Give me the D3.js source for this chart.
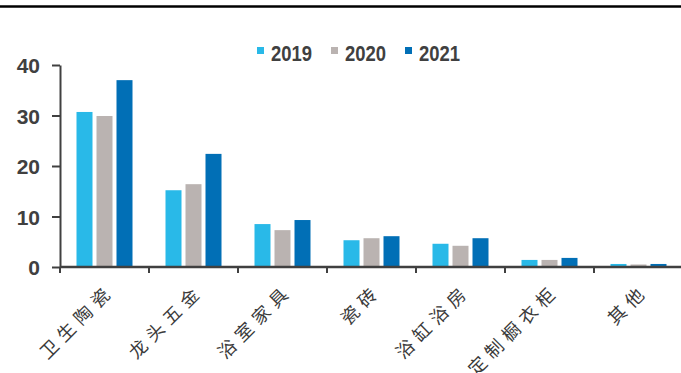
<!DOCTYPE html>
<html>
<head>
<meta charset="utf-8">
<script src="https://cdn.jsdelivr.net/npm/d3@7/dist/d3.min.js"></script>
<style>
  html, body { margin: 0; padding: 0; background: #fff; }
  svg { display: block; }
</style>
</head>
<body>
<svg id="chart" width="681" height="373"></svg>
<script>
// Categories and yearly values
const categories = ["卫生陶瓷", "龙头五金", "浴室家具", "瓷砖", "浴缸浴房", "定制橱衣柜", "其他"];
const years = ["2019", "2020", "2021"];
const values2019 = [30.7, 15.2, 8.5, 5.3, 4.6, 1.4, 0.6];
const values2020 = [29.9, 16.4, 7.3, 5.7, 4.2, 1.4, 0.5];
const values2021 = [37.0, 22.4, 9.3, 6.1, 5.7, 1.8, 0.6];
const yTicks = [0, 10, 20, 30, 40];
const colors = ["#29B9E8", "#BAB3B1", "#016FB6"];

const seriesValues = [values2019, values2020, values2021];

const svg = d3.select("#chart");
const W = 681, H = 373;

// top rule
svg.append("line")
  .attr("x1", 0).attr("x2", W).attr("y1", 6.5).attr("y2", 6.5)
  .attr("stroke", "#000").attr("stroke-width", 2.5);

const x0 = d3.scaleBand().domain(categories).range([60, 683]).paddingInner(0).paddingOuter(0);
const x1 = d3.scaleBand().domain(years).range([0, 56]).paddingInner(0.2).paddingOuter(0);
const y = d3.scaleLinear().domain([0, 40]).range([267, 65]);

// bars
const groups = svg.append("g").selectAll("g")
  .data(categories)
  .join("g")
  .attr("transform", c => `translate(${x0(c) + (x0.bandwidth() - 56) / 2},0)`);

groups.selectAll("rect")
  .data((c, i) => years.map((yr, k) => ({ yr, k, v: seriesValues[k][i] })))
  .join("rect")
  .attr("x", d => x1(d.yr))
  .attr("width", x1.bandwidth())
  .attr("y", d => y(d.v))
  .attr("height", d => y(0) - y(d.v))
  .attr("fill", d => colors[d.k]);

// y axis
const yAxis = svg.append("g")
  .attr("transform", "translate(60,0)")
  .call(d3.axisLeft(y).tickValues(yTicks).tickSize(8).tickPadding(12).tickSizeOuter(0));
yAxis.select(".domain").attr("stroke", "#404040").attr("stroke-width", 2);
yAxis.selectAll(".tick line").attr("stroke", "#404040").attr("stroke-width", 2);
yAxis.selectAll(".tick text")
  .attr("fill", "#404040")
  .attr("font-family", "'Liberation Sans', Arial, sans-serif")
  .attr("font-weight", "bold")
  .attr("font-size", 21)
  .attr("dy", "0.38em");

// x axis: ticks at band boundaries
const xAxisG = svg.append("g");
xAxisG.append("line")
  .attr("x1", 60).attr("x2", W).attr("y1", y(0)).attr("y2", y(0))
  .attr("stroke", "#404040").attr("stroke-width", 2.5);
xAxisG.selectAll("line.tk")
  .data(categories)
  .join("line")
  .attr("class", "tk")
  .attr("x1", c => x0(c)).attr("x2", c => x0(c))
  .attr("y1", y(0)).attr("y2", y(0) + 6)
  .attr("stroke", "#404040").attr("stroke-width", 2);

// category labels, rotated
xAxisG.selectAll("text.cat")
  .data(categories)
  .join("text")
  .attr("class", "cat")
  .attr("transform", c => `translate(${x0(c) + x0.bandwidth() / 2 + 11},${y(0) + 25}) rotate(-45)`)
  .attr("text-anchor", "end")
  .attr("fill", "#3a3a3a")
  .attr("font-family", "'Noto Sans CJK SC', sans-serif")
  .attr("font-size", 18)
  .attr("letter-spacing", "6px")
  .text(c => c);

// legend
const legend = svg.append("g");
years.forEach((yr, k) => {
  const lx = 257 + k * 74;
  legend.append("rect")
    .attr("x", lx).attr("y", 47).attr("width", 7).attr("height", 7)
    .attr("fill", colors[k]);
  legend.append("text")
    .attr("x", lx + 14).attr("y", 61)
    .attr("fill", "#404040")
    .attr("font-family", "'Liberation Sans', Arial, sans-serif")
    .attr("font-weight", "bold")
    .attr("font-size", 22)
    .attr("textLength", 41)
    .attr("lengthAdjust", "spacingAndGlyphs")
    .text(yr);
});
</script>
</body>
</html>
